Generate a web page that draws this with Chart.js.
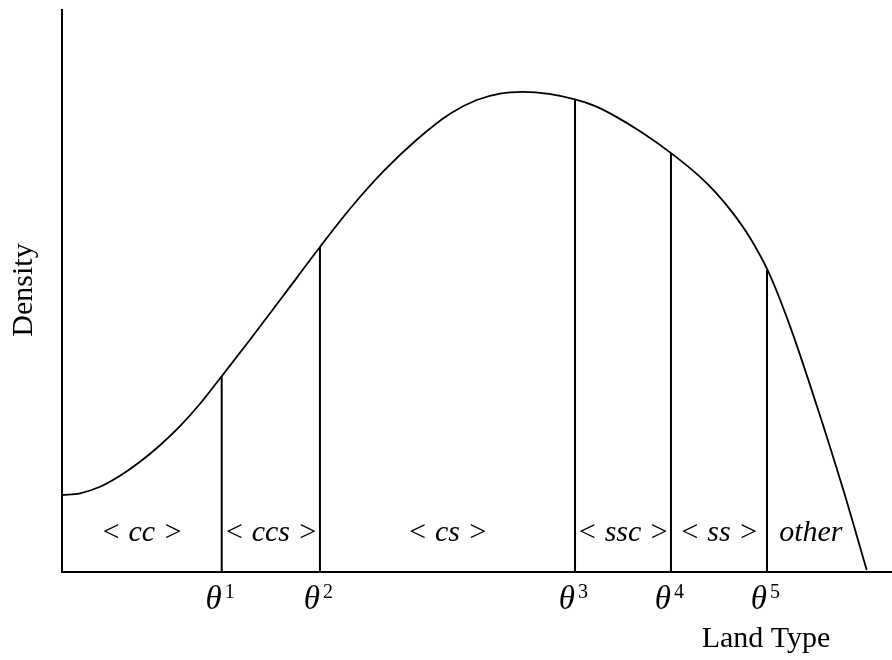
<!DOCTYPE html>
<html><head><meta charset="utf-8">
<script src="https://cdn.jsdelivr.net/npm/chart.js@4"></script>
<style>html,body{margin:0;padding:0;background:#fff;overflow:hidden}</style>
</head><body>
<canvas id="c" width="892" height="660"></canvas>
<script>
// Density curve (x: land-type continuum 0..100, y: density 0..100)
const curveX = [0, 2.17, 4.58, 6.99, 9.40, 11.81, 14.22, 16.63, 19.24, 22.65, 26.66, 31.17, 34.70, 38.71, 42.73, 46.75, 49.96, 52.77, 55.58, 58.67, 61.81, 64.10, 66.42, 69.88, 73.46, 76.87, 78.80, 80.88, 82.89, 85.10, 87.71, 90.93, 94.13, 96.95];
const curveY = [13.70, 13.99, 15.16, 17.12, 19.61, 22.56, 25.94, 29.93, 34.84, 41.33, 49.16, 58.02, 64.64, 71.28, 76.92, 81.55, 83.99, 85.14, 85.44, 85.07, 84.09, 82.99, 81.30, 78.20, 74.45, 70.32, 67.47, 63.77, 59.47, 53.43, 43.74, 29.63, 14.63, 0.36];
// Thresholds θ1..θ5 and the curve height at each
const thresholds = [19.24, 31.08, 61.81, 73.37, 84.94];
const thresholdTops = [34.84, 57.95, 84.09, 74.55, 53.70];
const thresholdLabels = ['1', '2', '3', '4', '5'];
const regionLabels = ['< cc >', '< ccs >', '< cs >', '< ssc >', '< ss >', 'other'];
const xTitle = 'Land Type';
const yTitle = 'Density';

const curveData = curveX.map((x, i) => ({x: x, y: curveY[i]}));
const datasets = [{
  data: curveData, borderColor: '#000', borderWidth: 1.8, pointRadius: 0,
  cubicInterpolationMode: 'monotone', fill: false
}];
thresholds.forEach((t, i) => {
  datasets.push({
    data: [{x: t, y: 0}, {x: t, y: thresholdTops[i]}],
    borderColor: '#000', borderWidth: 2, pointRadius: 0, tension: 0, fill: false
  });
});

const textPlugin = {
  id: 'texts',
  afterDraw(chart) {
    const {ctx, chartArea, scales: {x}} = chart;
    const bottom = chartArea.bottom;
    ctx.save();
    ctx.fillStyle = '#000';
    // region labels
    const bounds = [x.min, ...thresholds, curveX[curveX.length - 1]];
    ctx.font = 'italic 30px "Liberation Serif"';
    ctx.textAlign = 'center';
    ctx.textBaseline = 'alphabetic';
    regionLabels.forEach((lab, i) => {
      const mid = (bounds[i] + bounds[i + 1]) / 2;
      const px = x.getPixelForValue(mid);
      ctx.fillText(lab, i === regionLabels.length - 1 ? px - 6 : px, bottom - 31);
    });
    // theta tick labels
    thresholds.forEach((t, i) => {
      const px = x.getPixelForValue(t);
      ctx.font = 'italic 33px "Liberation Serif"';
      ctx.textAlign = 'right';
      ctx.fillText('\u03B8', px, bottom + 37);
      ctx.font = '20px "Liberation Serif"';
      ctx.textAlign = 'left';
      ctx.fillText(thresholdLabels[i], px + 3, bottom + 26);
    });
    // axis titles
    ctx.font = '30px "Liberation Serif"';
    ctx.textAlign = 'center';
    ctx.fillText(xTitle, 766, bottom + 75);
    ctx.translate(32, 290);
    ctx.rotate(-Math.PI / 2);
    ctx.fillText(yTitle, 0, 0);
    ctx.restore();
  }
};

const axisOpts = (min, max) => ({
  type: 'linear', min: min, max: max,
  ticks: {display: false},
  grid: {display: false, drawTicks: false},
  border: {display: true, color: '#000', width: 2},
  title: {display: false}
});

new Chart(document.getElementById('c'), {
  type: 'line',
  data: {datasets: datasets},
  options: {
    responsive: false, animation: false,
    layout: {padding: {left: 62, top: 10, right: 0, bottom: 88}},
    plugins: {legend: {display: false}, tooltip: {enabled: false}},
    scales: {x: axisOpts(0, 100), y: axisOpts(0, 100)}
  },
  plugins: [textPlugin]
});
</script>
</body></html>
